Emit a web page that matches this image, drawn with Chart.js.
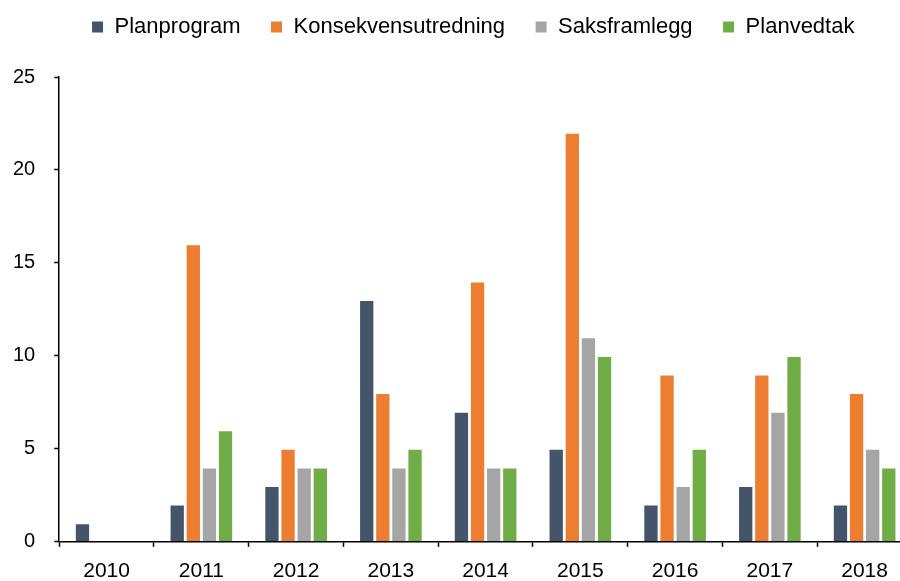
<!DOCTYPE html>
<html>
<head>
<meta charset="utf-8">
<script src="https://cdn.jsdelivr.net/npm/chart.js@4"></script>
<style>
  html, body { margin: 0; padding: 0; background: #fff; overflow: hidden; }
</style>
</head>
<body>
<canvas id="chart" width="912" height="581"></canvas>
<script>
const years = ["2010", "2011", "2012", "2013", "2014", "2015", "2016", "2017", "2018"];
const planprogram = [1, 2, 3, 13, 7, 5, 2, 3, 2];
const konsekvensutredning = [0, 16, 5, 8, 14, 22, 9, 9, 8];
const saksframlegg = [0, 4, 4, 4, 4, 11, 3, 7, 5];
const planvedtak = [0, 6, 4, 5, 4, 10, 5, 10, 4];
const yTicks = [0, 5, 10, 15, 20, 25];

const font = "'Liberation Sans', Arial, sans-serif";

function series(label, data, color) {
  return {
    label: label,
    data: data,
    backgroundColor: color,
    borderColor: "#ffffff",
    borderWidth: 1,
    categoryPercentage: 0.68,
    barPercentage: 0.95,
  };
}

// push the plot down below the legend, and nudge the legend right
const legendGap = {
  id: "legendGap",
  beforeInit(chart) {
    const fit = chart.legend.fit;
    chart.legend.fit = function () {
      fit.bind(chart.legend)();
      this.height += 29;
    };
  },
  afterLayout(chart) {
    chart.legend.left += 20;
    chart.legend.right += 20;
  },
};

new Chart(document.getElementById("chart"), {
  type: "bar",
  data: {
    labels: years,
    datasets: [
      series("Planprogram", planprogram, "#44546a"),
      series("Konsekvensutredning", konsekvensutredning, "#ed7d31"),
      series("Saksframlegg", saksframlegg, "#a5a5a5"),
      series("Planvedtak", planvedtak, "#70ad47"),
    ],
  },
  plugins: [legendGap],
  options: {
    responsive: false,
    animation: false,
    layout: { padding: { left: -6, right: 0, top: -14, bottom: -15 } },
    plugins: {
      legend: {
        position: "top",
        labels: {
          font: { family: font, size: 22 },
          color: "#000",
          boxWidth: 12,
          boxHeight: 12,
          padding: 30,
        },
      },
      tooltip: { enabled: false },
    },
    scales: {
      x: {
        offset: true,
        grid: {
          offset: true,
          drawOnChartArea: false,
          drawTicks: true,
          tickLength: 5,
          tickWidth: 1.5,
          color: "#000",
        },
        border: { color: "#000", width: 1.5 },
        ticks: { font: { family: font, size: 21 }, color: "#000", padding: 12 },
      },
      y: {
        min: 0,
        max: 25,
        afterBuildTicks: (axis) => {
          axis.ticks = yTicks.map((v) => ({ value: v }));
        },
        grid: {
          drawOnChartArea: false,
          drawTicks: true,
          tickLength: 5,
          tickWidth: 1.5,
          color: "#000",
        },
        border: { color: "#000", width: 1.5 },
        ticks: { font: { family: font, size: 20 }, color: "#000", padding: 19 },
      },
    },
  },
});
</script>
</body>
</html>
